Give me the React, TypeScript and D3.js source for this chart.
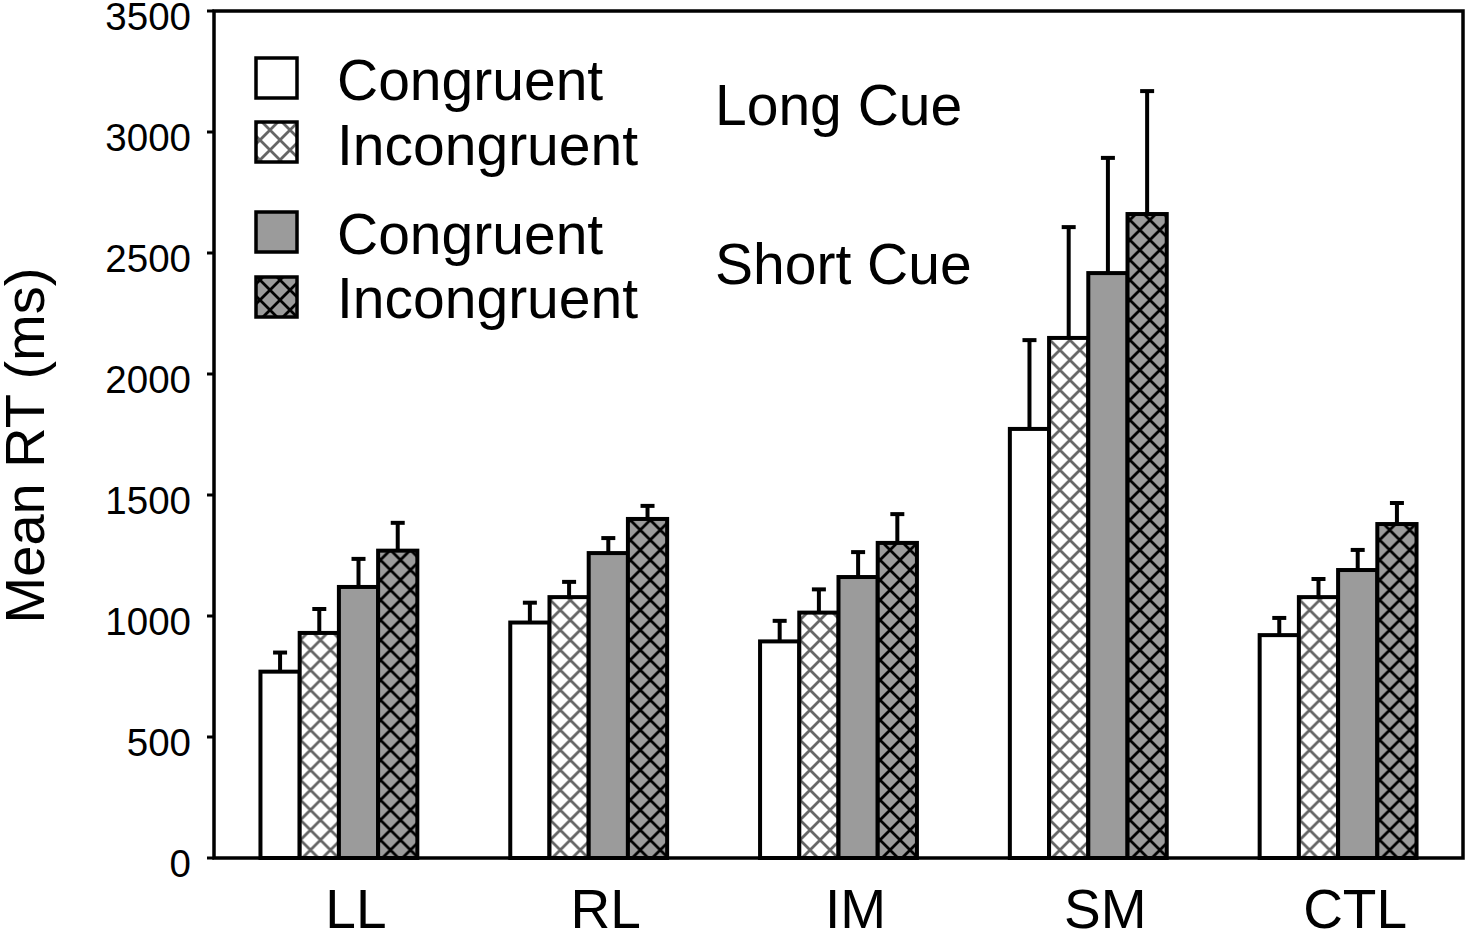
import React from "react";
import * as d3 from "d3";

const categories = ["LL", "RL", "IM", "SM", "CTL"];
const seriesNames = ["longCong", "longIncong", "shortCong", "shortIncong"];

// mean RT (ms) per category
const longCong = [770, 973, 895, 1773, 921];
const longIncong = [930, 1078, 1014, 2149, 1078];
const shortCong = [1120, 1260, 1161, 2417, 1190];
const shortIncong = [1270, 1401, 1302, 2661, 1380];

// standard errors (ms)
const longCongErr = [79, 82, 85, 367, 71];
const longIncongErr = [99, 63, 96, 458, 75];
const shortCongErr = [116, 62, 103, 476, 83];
const shortIncongErr = [115, 54, 119, 508, 87];

const yTicks = [0, 500, 1000, 1500, 2000, 2500, 3000, 3500];

const legendLabels = ["Congruent", "Incongruent", "Congruent", "Incongruent"];
const cueLabels = ["Long Cue", "Short Cue"];

const W = 1467;
const H = 935;
const margin = { top: 11, right: 4, bottom: 77, left: 214 };

const fills = ["#ffffff", "url(#hatchLight)", "#9b9b9b", "url(#hatchDark)"];

export default function App() {
  const values = [longCong, longIncong, shortCong, shortIncong];
  const errors = [longCongErr, longIncongErr, shortCongErr, shortIncongErr];

  const x = d3
    .scaleBand<string>()
    .domain(categories)
    .range([margin.left, W - margin.right])
    .paddingInner(0.372)
    .paddingOuter(0.186);

  const xs = d3
    .scaleBand<string>()
    .domain(seriesNames)
    .range([0, x.bandwidth()]);

  const y = d3
    .scaleLinear()
    .domain([0, 3500])
    .range([H - margin.bottom, margin.top]);

  const font = "'Liberation Sans', Arial, Helvetica, sans-serif";
  const capW = 14;
  const P = 20; // hatch period

  // legend rows: y of box top, baseline of text
  const legendBoxY = [58, 122, 212, 277];
  const legendTextY = [100, 165, 254, 318];

  return (
    <svg
      width={W}
      height={H}
      style={{ position: "absolute", left: 0, top: 0, background: "#fff" }}
      fontFamily={font}
    >
      <defs>
        <pattern id="hatchLight" patternUnits="userSpaceOnUse" width={P} height={P}>
          <rect width={P} height={P} fill="#fff" />
          <path d={`M0,0L${P},${P}M${P},0L0,${P}`} stroke="#666" strokeWidth={2.8} />
        </pattern>
        <pattern id="hatchDark" patternUnits="userSpaceOnUse" width={P} height={P}>
          <rect width={P} height={P} fill="#9b9b9b" />
          <path d={`M0,0L${P},${P}M${P},0L0,${P}`} stroke="#000" strokeWidth={2.8} />
        </pattern>
      </defs>

      {/* bars */}
      {categories.map((c, i) => (
        <g key={c} transform={`translate(${x(c)},0)`}>
          {seriesNames.map((s, j) => {
            const v = values[j][i];
            const e = errors[j][i];
            const bx = xs(s)!;
            const cx = bx + xs.bandwidth() / 2;
            return (
              <g key={s}>
                <line x1={cx} x2={cx} y1={y(v)} y2={y(v + e)} stroke="#000" strokeWidth={4} />
                <line
                  x1={cx - capW / 2}
                  x2={cx + capW / 2}
                  y1={y(v + e)}
                  y2={y(v + e)}
                  stroke="#000"
                  strokeWidth={4}
                />
                <rect
                  x={bx}
                  y={y(v)}
                  width={xs.bandwidth()}
                  height={y(0) - y(v)}
                  fill={fills[j]}
                  stroke="#000"
                  strokeWidth={4}
                />
              </g>
            );
          })}
        </g>
      ))}

      {/* frame */}
      <rect
        x={margin.left}
        y={margin.top}
        width={W - margin.right - margin.left}
        height={y(0) - margin.top}
        fill="none"
        stroke="#000"
        strokeWidth={3.5}
      />

      {/* y axis ticks */}
      {yTicks.map((t) => (
        <g key={t}>
          <line x1={margin.left - 7} x2={margin.left} y1={y(t)} y2={y(t)} stroke="#000" strokeWidth={3} />
          <text
            x={margin.left - 23}
            y={y(t)}
            dy="0.5em"
            textAnchor="end"
            fontSize={38.5}
            fill="#000"
          >
            {t}
          </text>
        </g>
      ))}

      {/* y axis title */}
      <text
        transform={`translate(44,${(margin.top + y(0)) / 2 + 11}) rotate(-90)`}
        textAnchor="middle"
        fontSize={56}
        fill="#000"
      >
        Mean RT (ms)
      </text>

      {/* category labels */}
      {categories.map((c) => (
        <text
          key={c}
          x={x(c)! + x.bandwidth() / 2 + 17}
          y={928}
          textAnchor="middle"
          fontSize={55}
          fill="#000"
        >
          {c}
        </text>
      ))}

      {/* legend */}
      {legendLabels.map((l, j) => (
        <g key={j}>
          <rect
            x={256}
            y={legendBoxY[j]}
            width={41}
            height={40}
            fill={fills[j]}
            stroke="#000"
            strokeWidth={3.5}
          />
          <text x={337} y={legendTextY[j]} fontSize={57} fill="#000">
            {l}
          </text>
        </g>
      ))}
      <text x={715} y={125} fontSize={57} fill="#000">
        {cueLabels[0]}
      </text>
      <text x={715} y={284} fontSize={57} fill="#000">
        {cueLabels[1]}
      </text>
    </svg>
  );
}
